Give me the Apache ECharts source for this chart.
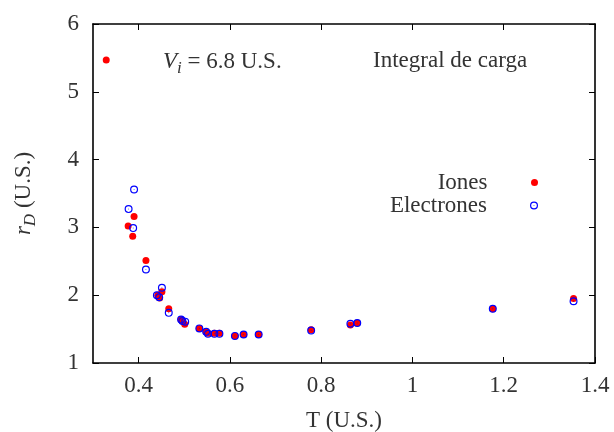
<!DOCTYPE html>
<html>
<head>
<meta charset="utf-8">
<script src="https://cdn.jsdelivr.net/npm/echarts@6/dist/echarts.min.js"></script>
<style>html,body{margin:0;padding:0;background:#fff}#c{width:614px;height:432px}</style>
</head>
<body>
<div id="c"></div>
<script>
var ionsT = [0.329,0.390,0.377,0.387,0.416,0.451,0.442,0.446,0.466,0.493,0.496,0.501,0.533,0.548,0.552,0.566,0.577,0.611,0.630,0.663,0.778,0.864,0.879,1.176,1.353];
var ionsR = [5.47,3.16,3.02,2.87,2.51,2.05,2.00,1.96,1.80,1.64,1.62,1.57,1.51,1.46,1.44,1.44,1.44,1.40,1.42,1.42,1.49,1.56,1.59,1.80,1.95];
var elecT = [0.390,0.378,0.388,0.416,0.451,0.440,0.445,0.466,0.493,0.496,0.502,0.533,0.548,0.552,0.566,0.577,0.611,0.630,0.663,0.778,0.864,0.879,1.176,1.353];
var elecR = [3.56,3.27,2.99,2.38,2.11,2.00,1.97,1.74,1.64,1.62,1.61,1.51,1.46,1.43,1.43,1.43,1.40,1.42,1.42,1.48,1.58,1.59,1.80,1.91];
var xTicks = [0.4,0.6,0.8,1.0,1.2,1.4];
var yTicks = [1,2,3,4,5,6];
var seriesNames = ['Iones','Electrones'];

function pairs(xs, ys){ return xs.map(function(x,i){ return [x, ys[i]]; }); }

var FONT = 'Liberation Serif';
var FS = 23;
var SUB = 17;
var TXT = '#333';
var ringPath = 'path://M50,0A50,50 0 1,1 50,100A50,50 0 1,1 50,0ZM50,15A35,35 0 1,0 50,85A35,35 0 1,0 50,15ZM50,44A6,6 0 1,1 50,56A6,6 0 1,1 50,44Z';

var chart = echarts.init(document.getElementById('c'), null, {renderer:'canvas'});
var axisLine = {show:true, lineStyle:{color:'#000', width:1.6}};
var tick = {show:true, inside:true, length:6, lineStyle:{color:'#000', width:1}};
chart.setOption({
  animation:false,
  backgroundColor:'#fff',
  grid:{left:93, right:19, top:24, bottom:69, containLabel:false, outerBoundsMode:'none'},
  title:[
    {text:'{v|V}{s|i}{n| = 6.8 U.S.}', left:158, top:42,
     textStyle:{rich:{
       v:{fontFamily:FONT, fontStyle:'italic', fontWeight:'normal', fontSize:FS, color:TXT},
       s:{fontFamily:FONT, fontStyle:'italic', fontWeight:'normal', fontSize:SUB, color:TXT, padding:[13,0,0,0]},
       n:{fontFamily:FONT, fontWeight:'normal', fontSize:FS, color:TXT}
     }}},
    {text:'Integral de carga', left:368, top:44, textStyle:{fontFamily:FONT, fontSize:FS, fontWeight:'normal', color:TXT}}
  ],
  legend:[
    {data:[seriesNames[0]], right:71, top:166, align:'right', itemWidth:84, itemHeight:7,
     textStyle:{fontFamily:FONT, fontSize:FS, color:TXT}},
    {data:[seriesNames[1]], right:71, top:189, align:'right', itemWidth:84, itemHeight:8,
     textStyle:{fontFamily:FONT, fontSize:FS, color:TXT}}
  ],
  xAxis:[
    {type:'value', min:0.3, max:1.4, position:'bottom',
     name:'T (U.S.)', nameLocation:'middle', nameGap:46,
     nameTextStyle:{fontFamily:FONT, fontSize:FS, color:TXT},
     axisLine:axisLine, splitLine:{show:false},
     axisTick:Object.assign({customValues:xTicks}, tick),
     axisLabel:{customValues:xTicks, fontFamily:FONT, fontSize:FS, color:TXT, margin:11,
       formatter:function(v){ return String(Math.round(v*10)/10); }}},
    {type:'value', min:0.3, max:1.4, position:'top',
     axisLine:axisLine, splitLine:{show:false},
     axisTick:Object.assign({customValues:xTicks}, tick), axisLabel:{show:false}}
  ],
  yAxis:[
    {type:'value', min:1, max:6, interval:1, position:'left',
     name:'{i|r}{s|D}{n| (U.S.)}', nameLocation:'middle', nameGap:54, nameRotate:90,
     nameTextStyle:{rich:{
       i:{fontFamily:FONT, fontStyle:'italic', fontSize:FS, color:TXT},
       s:{fontFamily:FONT, fontStyle:'italic', fontSize:SUB, color:TXT, padding:[13,0,0,0]},
       n:{fontFamily:FONT, fontSize:FS, color:TXT}
     }},
     axisLine:axisLine, splitLine:{show:false}, axisTick:tick,
     axisLabel:{fontFamily:FONT, fontSize:FS, color:TXT, margin:14}},
    {type:'value', min:1, max:6, interval:1, position:'right',
     axisLine:axisLine, splitLine:{show:false}, axisTick:tick, axisLabel:{show:false}}
  ],
  series:[
    {name:seriesNames[0], type:'scatter', data:pairs(ionsT, ionsR), symbol:'circle', symbolSize:7,
     itemStyle:{color:'#ff0000', opacity:1}},
    {name:seriesNames[1], type:'scatter', data:pairs(elecT, elecR), symbol:ringPath, symbolSize:8,
     itemStyle:{color:'#0000ff', opacity:1}}
  ]
});
</script>
</body>
</html>
